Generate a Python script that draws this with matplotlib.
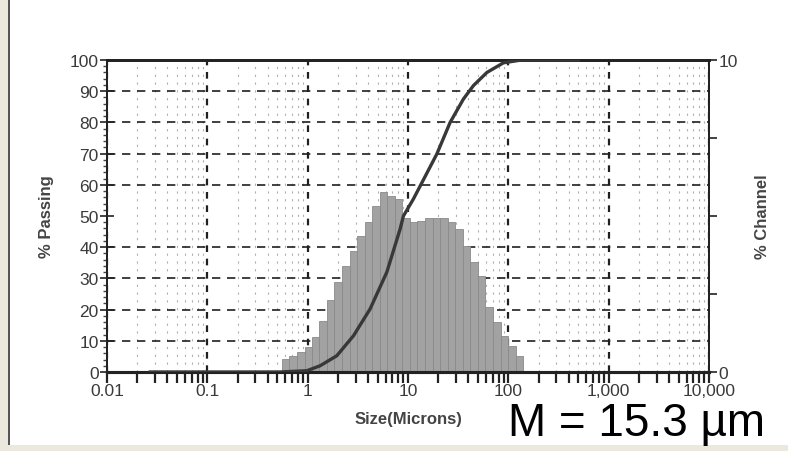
import matplotlib
matplotlib.use("Agg")
import matplotlib.pyplot as plt
from matplotlib.patches import Rectangle
from matplotlib.ticker import FixedLocator, NullFormatter, LogLocator
import numpy as np

plt.rcParams['font.family'] = ['Liberation Sans', 'DejaVu Sans']

# Histogram bin edges (microns)
bin_edges = [0.55, 0.65, 0.78, 0.93, 1.10, 1.31, 1.56, 1.85, 2.20, 2.62, 3.11,
             3.70, 4.40, 5.23, 6.22, 7.40, 8.80, 10.5, 12.4, 14.8, 17.6, 20.9,
             24.9, 29.6, 35.2, 41.9, 49.8, 59.2, 70.4, 83.7, 99.5, 118.0, 141.0]
# % Channel per bin
channel_pct = [0.42, 0.50, 0.65, 0.79, 1.11, 1.65, 2.32, 2.87, 3.39, 3.89, 4.35,
               4.82, 5.31, 5.76, 5.63, 5.53, 4.95, 4.80, 4.85, 4.93, 4.95, 4.93,
               4.82, 4.58, 4.05, 3.52, 3.09, 2.07, 1.59, 1.16, 0.84, 0.52]

# Cumulative % passing curve
curve_size = [0.027, 0.53, 0.98, 1.33, 1.95, 2.86, 4.19, 6.15, 8.34, 9.0, 11.3,
              19.4, 26.3, 35.7, 44.9, 61.1, 89.4, 135.0, 500.0]
curve_pass = [0.0, 0.0, 0.4, 2.0, 5.2, 11.6, 20.2, 32.0, 45.8, 50.0, 55.4,
              69.9, 80.0, 87.5, 91.8, 96.0, 99.1, 100.0, 100.0]

x_ticks = [0.01, 0.1, 1, 10, 100, 1000, 10000]
x_ticklabels = ["0.01", "0.1", "1", "10", "100", "1,000", "10,000"]
left_ticks = [0, 10, 20, 30, 40, 50, 60, 70, 80, 90, 100]
right_ticks = [0, 2.5, 5, 7.5, 10]
right_ticklabels = ["0", "", "", "", "10"]

TICK_FS = 12.5
LABEL_COLOR = '#3a3a3a'

fig = plt.figure(figsize=(7.88, 4.52), dpi=100)
fig.patch.set_facecolor('white')

ax = fig.add_axes([107/788, 1-373/452, (709-107)/788, (373-61)/452])
ax2 = ax.twinx()
ax.set_zorder(2)
ax2.set_zorder(1)
ax.patch.set_visible(False)
ax2.patch.set_visible(True)
ax2.patch.set_facecolor('white')

ax.set_xscale('log')
ax.set_xlim(0.01, 10000)
ax.set_ylim(0, 100)
ax2.set_ylim(0, 10)

# make ax2's x axis draw gridlines only
ax2.xaxis.set_visible(True)
ax2.tick_params(axis='x', which='both', length=0, labelbottom=False, labeltop=False)

# grid on ax2 (behind bars)
ax2.yaxis.set_minor_locator(FixedLocator([1, 2, 3, 4, 5, 6, 7, 8, 9]))
ax2.grid(True, axis='y', which='minor', color='#202020', linestyle=(0, (5, 4)), linewidth=1.2)
ax2.grid(True, axis='x', which='major', color='#202020', linestyle=(0, (3, 3)), linewidth=1.6)
ax2.grid(True, axis='x', which='minor', color='#b0b0b0', linestyle=(0, (2, 5)), linewidth=0.8)
ax2.tick_params(axis='y', which='minor', length=0)
ax2.set_axisbelow(True)

# histogram bars
edges = np.array(bin_edges)
ax2.bar(edges[:-1], channel_pct, width=np.diff(edges), align='edge',
        color='#a2a2a2', edgecolor='#8a8a8a', linewidth=0.6, zorder=2)

# cumulative curve
ax.plot(curve_size, curve_pass, color='#383838', linewidth=2.4, zorder=3)

# x axis
ax.set_xticks(x_ticks)
ax.set_xticklabels(x_ticklabels)
ax.xaxis.set_minor_locator(LogLocator(base=10, subs=np.arange(2, 10), numticks=20))
ax.xaxis.set_minor_formatter(NullFormatter())
ax.tick_params(axis='x', which='both', direction='out', length=8, width=1.6,
               color='#222222', labelsize=TICK_FS, labelcolor=LABEL_COLOR, pad=0)

# left axis
ax.set_yticks(left_ticks)
ax.yaxis.set_minor_locator(FixedLocator(np.arange(0, 101, 2)))
ax.tick_params(axis='y', which='major', direction='inout', length=10, width=1.2,
               color='#222222', labelsize=TICK_FS, labelcolor=LABEL_COLOR, pad=1)
ax.tick_params(axis='y', which='minor', direction='out', length=3, width=1.0, color='#444444')

# right axis
ax2.set_yticks(right_ticks)
ax2.set_yticklabels(right_ticklabels)
ax2.tick_params(axis='y', which='major', direction='out', length=6, width=1.2,
                color='#222222', labelsize=TICK_FS, labelcolor=LABEL_COLOR, pad=1)

for a in (ax, ax2):
    for s in a.spines.values():
        s.set_color('#222222')
        s.set_linewidth(1.4)
    a.spines['bottom'].set_linewidth(2.2)
    a.spines['top'].set_linewidth(2.0)

ax.set_xlabel('Size(Microns)', fontsize=12, fontweight='bold', color='#444444', labelpad=9)
ax.set_ylabel('% Passing', fontsize=12, fontweight='bold', color='#444444', labelpad=11)
ax2.set_ylabel('% Channel', fontsize=12, fontweight='bold', color='#444444', labelpad=12, rotation=90)

fig.text(508/788, 1-424/452, 'M = 15.3 \u00b5m', fontsize=33, color='black',
         ha='left', va='center')

# scan frame
fig.patches.append(Rectangle((0, 0), 8/788, 1, transform=fig.transFigure,
                             facecolor='#ebe9dd', edgecolor='none', zorder=0))
fig.patches.append(Rectangle((8/788, 0), 1.5/788, 1, transform=fig.transFigure,
                             facecolor='#555555', edgecolor='none', zorder=0))
fig.patches.append(Rectangle((0, 0), 1, 6/452, transform=fig.transFigure,
                             facecolor='#ebe9dd', edgecolor='none', zorder=0))

fig.savefig('out.png', dpi=100)
